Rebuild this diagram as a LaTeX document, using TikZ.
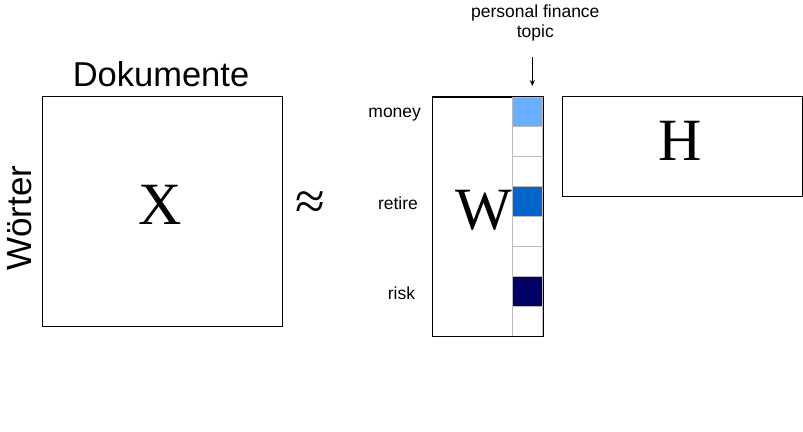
\documentclass[tikz,border=0pt]{standalone}
\usepackage{fontspec}
\setmainfont{Liberation Sans}
\newfontfamily\seriffont{Liberation Serif}
\usetikzlibrary{arrows.meta}
\definecolor{lightblue}{HTML}{66B0FF}
\definecolor{midblue}{HTML}{0066CC}
\definecolor{navyblue}{HTML}{000066}
\definecolor{cellgray}{HTML}{BBBBBB}
\tikzset{
  matbox/.style={draw=black, line width=1pt, inner sep=0pt, anchor=north west},
  bigletter/.style={font=\seriffont\fontsize{60}{60}\selectfont, inner sep=0pt},
  wordlabel/.style={font=\fontsize{17.5}{20}\selectfont, inner sep=0pt},
  cellbox/.style={draw=cellgray, line width=0.8pt, minimum width=30pt, minimum height=29.9pt, inner sep=0pt, anchor=north west},
}
\begin{document}
\begin{tikzpicture}[x=1pt,y=-1pt]
\useasboundingbox (0,0) rectangle (803,431);
% X matrix
\node[matbox, minimum width=240pt, minimum height=230pt] (Xbox) at (42,96) {};
\node[bigletter] (Xl) at (160,205) {X};
\node[font=\fontsize{34.5}{34.5}\selectfont, anchor=base, inner sep=0pt] (dok) at (161,86) {Dokumente};
\node[font=\fontsize{35}{35}\selectfont, rotate=90, inner sep=0pt] (woe) at (20,218) {Wörter};
% approx
\node[font=\seriffont\fontsize{54}{54}\selectfont, inner sep=0pt] (approx) at (310,206) {≈};
% W matrix
\node[matbox, minimum width=110pt, minimum height=239pt] (Wbox) at (432,96.5) {};
\node[bigletter] (Wl) at (484,210) {W};
\foreach \i/\c in {1/lightblue,2/white,3/white,4/midblue,5/white,6/white,7/navyblue,8/white}{
  \node[cellbox, fill=\c] (cell\i) at (512.3,{96.5+(\i-1)*29.9}) {};
}
\draw[line width=1pt] (Wbox.north west) rectangle (Wbox.south east);
% word labels
\node[wordlabel] (money) at (394.7,115) {money};
\node[wordlabel] (retire) at (398,203) {retire};
\node[wordlabel] (risk) at (401.5,293) {risk};
% topic label
\node[wordlabel, align=center] (topic) at (535.3,23) {personal finance\\topic};
\coordinate (arrS) at (532.3,56.5);
\coordinate (arrE) at (532.3,86);
\draw[line width=0.9pt, -{Stealth[length=6pt,width=5pt]}] (arrS) -- (arrE);
% H matrix
\node[matbox, minimum width=240pt, minimum height=100pt] (Hbox) at (562.3,96.2) {};
\node[bigletter] (Hl) at (680,141) {H};
\end{tikzpicture}
\end{document}
